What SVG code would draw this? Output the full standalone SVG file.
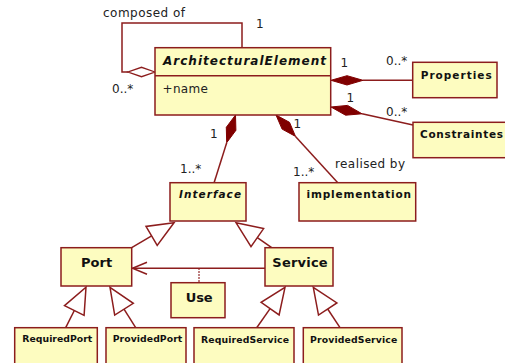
<svg xmlns="http://www.w3.org/2000/svg" width="505" height="363" viewBox="0 0 505 363">
  <style>
    .box { fill: #fdfcc0; stroke: #8c1d1d; stroke-width: 1.5; }
    .ln { fill: none; stroke: #8c1d1d; stroke-width: 1.5; }
    .gen { fill: #ffffff; stroke: #8c1d1d; stroke-width: 1.5; stroke-linejoin: miter; }
    .comp { fill: #800000; stroke: #800000; stroke-width: 1; }
    .agg { fill: #ffffff; stroke: #8c1d1d; stroke-width: 1.3; }
    .lbl { font-family: "DejaVu Sans", Verdana, sans-serif; font-size: 12px; fill: #222; }
    .name { font-family: "DejaVu Sans", Verdana, sans-serif; font-weight: bold; fill: #111; }
    .abs { font-style: italic; }
  </style>

  <rect width="505" height="363" fill="#ffffff"/>

  <!-- connectors -->
  <g id="connectors">
    <!-- self aggregation: composed of -->
    <polyline class="ln" points="242,47.7 242,23 122,23 122,72 128,72"/>
    <polygon class="agg" points="155,72 141.5,67.3 128,72 141.5,76.7"/>

    <!-- composition to Properties -->
    <line class="ln" x1="363" y1="80.3" x2="413" y2="80.3"/>
    <polygon class="comp" points="331,80.3 347,75.7 363,80.3 347,85"/>

    <!-- composition to Constraintes -->
    <line class="ln" x1="362" y1="113.8" x2="413" y2="125"/>
    <polygon class="comp" points="331,107 347.6,105.4 362,113.8 345.6,115.2"/>

    <!-- composition to Interface -->
    <line class="ln" x1="226.7" y1="142.7" x2="214" y2="183"/>
    <polygon class="comp" points="235.5,115 235.9,130.3 226.7,142.7 226.3,127.3"/>

    <!-- composition to implementation -->
    <line class="ln" x1="295.5" y1="136.4" x2="338" y2="183"/>
    <polygon class="comp" points="276,115 289.5,122.3 295.5,136.4 282.1,129.1"/>

    <!-- generalisations to Interface -->
    <line class="ln" x1="131.7" y1="247.7" x2="151.6" y2="235.9"/>
    <polygon class="gen" points="174,222.7 157.2,245.4 146,226.4"/>
    <line class="ln" x1="271.7" y1="247.7" x2="257.3" y2="237.6"/>
    <polygon class="gen" points="236,222.7 263.6,228.6 251,246.6"/>

    <!-- generalisations to Port -->
    <line class="ln" x1="65.7" y1="327.7" x2="74.3" y2="310.5"/>
    <polygon class="gen" points="86,287.3 84.1,315.4 64.5,305.6"/>
    <line class="ln" x1="135.7" y1="327.7" x2="124" y2="309.2"/>
    <polygon class="gen" points="110,287.3 133.3,303.3 114.7,315.1"/>

    <!-- generalisations to Service -->
    <line class="ln" x1="256.7" y1="327.7" x2="270.1" y2="308.6"/>
    <polygon class="gen" points="285,287.3 279.1,314.9 261.1,302.3"/>
    <line class="ln" x1="340" y1="327.7" x2="327.7" y2="309"/>
    <polygon class="gen" points="313.3,287.3 336.9,302.9 318.5,315.1"/>

    <!-- Service uses Port -->
    <line class="ln" x1="265" y1="268.3" x2="132.5" y2="268.3"/>
    <polyline class="ln" points="147,262.3 132.5,268.3 147,274.3"/>
    <line class="ln" x1="199" y1="268.3" x2="199" y2="283" stroke-dasharray="1.5,1.5" stroke-width="1.2"/>

    <!-- multiplicities and roles -->
    <text class="lbl" x="103" y="17" textLength="82">composed of</text>
    <text class="lbl" x="256" y="27.5">1</text>
    <text class="lbl" x="112" y="93">0..*</text>
    <text class="lbl" x="340.5" y="66.7">1</text>
    <text class="lbl" x="386" y="65">0..*</text>
    <text class="lbl" x="346.5" y="101.7">1</text>
    <text class="lbl" x="386" y="116">0..*</text>
    <text class="lbl" x="210" y="138">1</text>
    <text class="lbl" x="180" y="173.3">1..*</text>
    <text class="lbl" x="293.5" y="127.7">1</text>
    <text class="lbl" x="293" y="175.7">1..*</text>
    <text class="lbl" x="335" y="167.7" textLength="70">realised by</text>
  </g>

  <g id="ArchitecturalElement">
    <rect class="box" x="155" y="47.7" width="175.7" height="67.3"/>
    <line class="ln" x1="155" y1="75.7" x2="330.7" y2="75.7"/>
    <text class="name abs" x="163" y="65" font-size="12" textLength="163">ArchitecturalElement</text>
    <text class="lbl" x="162.5" y="93.3" textLength="45.5">+name</text>
  </g>

  <g id="Properties">
    <rect class="box" x="412.7" y="62.3" width="84.3" height="35.4"/>
    <text class="name" x="420.7" y="79" font-size="10.5" textLength="71">Properties</text>
  </g>

  <g id="Constraintes">
    <rect class="box" x="413" y="122.3" width="100" height="35.4"/>
    <text class="name" x="420" y="137.5" font-size="10.5" textLength="83">Constraintes</text>
  </g>

  <g id="Interface">
    <rect class="box" x="170" y="182.7" width="76" height="38.3"/>
    <text class="name abs" x="179" y="198.3" font-size="10.5" textLength="62">Interface</text>
  </g>

  <g id="implementation">
    <rect class="box" x="299" y="182.7" width="116.7" height="38.3"/>
    <text class="name" x="306.5" y="198.3" font-size="10.5" textLength="104.5">implementation</text>
  </g>

  <g id="Port">
    <rect class="box" x="61" y="247.7" width="70.7" height="38.3"/>
    <text class="name" x="81" y="266.7" font-size="13" textLength="31.3">Port</text>
  </g>

  <g id="Service">
    <rect class="box" x="265" y="247.7" width="68" height="38.3"/>
    <text class="name" x="272.3" y="266.7" font-size="13" textLength="55.4">Service</text>
  </g>

  <g id="Use">
    <rect class="box" x="171" y="282.7" width="54" height="35"/>
    <text class="name" x="185.7" y="301.7" font-size="13" textLength="27">Use</text>
  </g>

  <g id="RequiredPort">
    <rect class="box" x="14.7" y="327.7" width="82.6" height="45"/>
    <text class="name" x="22.3" y="342.3" font-size="9.3" textLength="70">RequiredPort</text>
  </g>

  <g id="ProvidedPort">
    <rect class="box" x="106" y="327.7" width="80" height="45"/>
    <text class="name" x="112.7" y="342.3" font-size="9.3" textLength="69.6">ProvidedPort</text>
  </g>

  <g id="RequiredService">
    <rect class="box" x="194" y="327.7" width="100" height="45"/>
    <text class="name" x="201" y="342.5" font-size="9.3" textLength="88">RequiredService</text>
  </g>

  <g id="ProvidedService">
    <rect class="box" x="303.3" y="327.7" width="98.7" height="45"/>
    <text class="name" x="310" y="342.5" font-size="9.3" textLength="87.3">ProvidedService</text>
  </g>
</svg>
